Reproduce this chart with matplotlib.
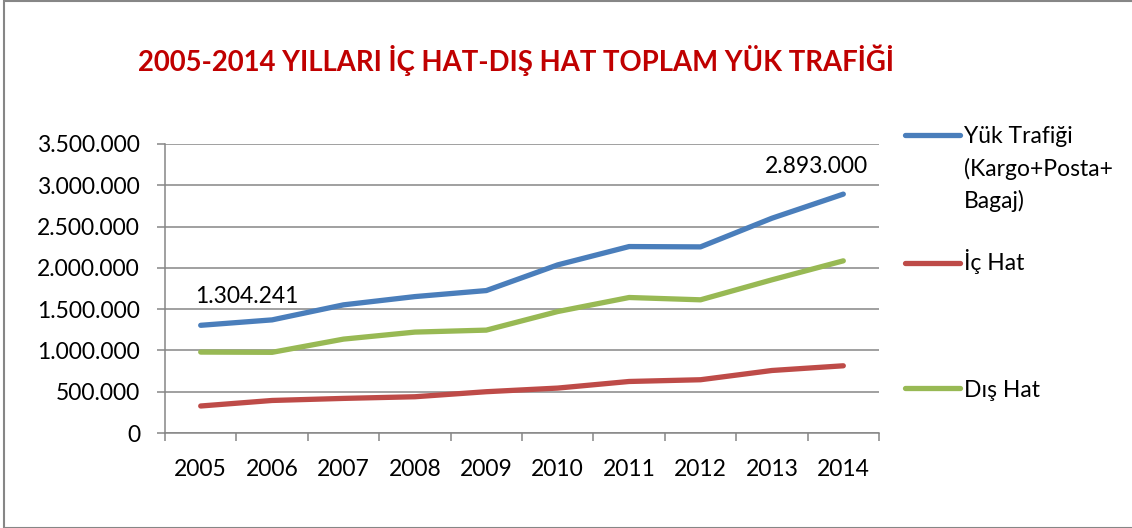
import matplotlib
matplotlib.use("Agg")

import matplotlib.pyplot as plt
from matplotlib.ticker import FuncFormatter, FixedLocator
from matplotlib.lines import Line2D
from matplotlib.patches import Rectangle

years = ["2005", "2006", "2007", "2008", "2009", "2010", "2011", "2012", "2013", "2014"]
yuk_trafigi = [1304241, 1370000, 1552000, 1652000, 1725000, 2036000, 2258000, 2254000, 2601000, 2893000]
ic_hat = [327000, 394000, 419000, 439000, 500000, 544000, 624000, 645000, 757000, 814000]
dis_hat = [980000, 977000, 1137000, 1222000, 1246000, 1471000, 1641000, 1613000, 1855000, 2085000]

series_names = ["Yük Trafiği\n(Kargo+Posta+\nBagaj)", "İç Hat", "Dış Hat"]
colors = ["#4A7EBB", "#BE4B48", "#98B954"]

plt.rcParams["font.family"] = ["Lato", "DejaVu Sans"]

W, H = 1132, 528
fig = plt.figure(figsize=(W / 100, H / 100), dpi=100)
fig.patch.set_facecolor("white")

# outer frame
fig.add_artist(Rectangle((4 / W, 0.5 / H), 1.2, 1 - 1.5 / H, transform=fig.transFigure,
                         fill=False, edgecolor="#868686", linewidth=1.5))

ax = fig.add_axes([165 / W, 1 - 433 / H, (879 - 165) / W, (433 - 144) / H])

x = list(range(len(years)))
for vals, c in zip([yuk_trafigi, ic_hat, dis_hat], colors):
    ax.plot(x, vals, color=c, linewidth=3.8, solid_capstyle="round", solid_joinstyle="round", zorder=3)

ax.set_xlim(-0.5, len(years) - 0.5)
ax.set_ylim(0, 3500000)
ax.set_yticks(range(0, 3500001, 500000))
ax.yaxis.set_major_formatter(FuncFormatter(lambda v, p: f"{int(v):,}".replace(",", ".")))

ax.set_xticks(x)
ax.set_xticklabels(years)
ax.xaxis.set_minor_locator(FixedLocator([i - 0.5 for i in range(len(years) + 1)]))

grid_c = "#868686"
ax.grid(axis="y", color=grid_c, linewidth=1.1)
ax.set_axisbelow(True)
for s in ["top", "right"]:
    ax.spines[s].set_visible(False)
for s in ["left", "bottom"]:
    ax.spines[s].set_color(grid_c)
    ax.spines[s].set_linewidth(1.1)

ax.tick_params(axis="x", which="major", length=0, pad=19, labelsize=16.5, colors="black")
ax.tick_params(axis="x", which="minor", length=6, width=1.1, color=grid_c, direction="out")
ax.tick_params(axis="y", length=6, width=1.1, color=grid_c, pad=12, labelsize=16.5)

# data labels
ax.annotate("1.304.241", xy=(0, yuk_trafigi[0]), xytext=(46, 22), textcoords="offset pixels",
            ha="center", va="baseline", fontsize=16.5)
ax.annotate("2.893.000", xy=(9, yuk_trafigi[-1]), xytext=(-27, 21), textcoords="offset pixels",
            ha="center", va="baseline", fontsize=16.5)

fig.text(516.5 / W, 1 - 71 / H, "2005-2014 YILLARI İÇ HAT-DIŞ HAT TOPLAM YÜK TRAFİĞİ",
         ha="center", va="baseline", fontsize=19.8, fontweight="bold", color="#C00000")

# legend, drawn by hand so the entries sit where Excel spread them
leg_y = [135, 263, 388]
leg_base = [143, 270, 397]
line_step = 32.5
for name, c, yl, yb in zip(series_names, colors, leg_y, leg_base):
    fig.add_artist(Line2D([905 / W, 960 / W], [1 - yl / H, 1 - yl / H], transform=fig.transFigure,
                          color=c, linewidth=3.8, solid_capstyle="round"))
    for k, part in enumerate(name.split("\n")):
        fig.text(964 / W, 1 - (yb + k * line_step) / H, part, ha="left", va="baseline", fontsize=16.5)

fig.savefig("out.png", dpi=100)
